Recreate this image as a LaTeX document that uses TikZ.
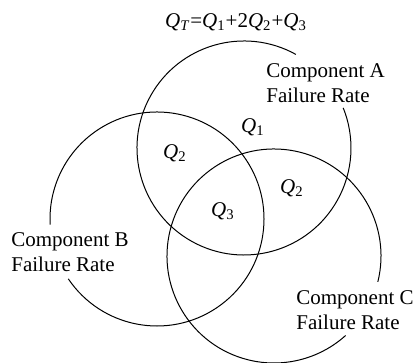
\documentclass[tikz,border=0pt]{standalone}
\usepackage{fontspec}
\setmainfont{Liberation Serif}
\usepackage{tikz}
\newcommand{\Qs}[1]{\textit{Q}\textsubscript{#1}}

\begin{document}
\begin{tikzpicture}[x=0.5pt, y=0.5pt, every node/.style={align=left, inner sep=0pt, font=\fontsize{10.5}{12.5}\selectfont}, ring/.style={line width=0.5pt}]
\useasboundingbox (0,0) rectangle (414,363);
\coordinate (ca) at (244,215);
\coordinate (cb) at (157,144);
\coordinate (cc) at (274,107);
\draw[ring] ([shift={(61:53.5pt)}]ca) arc[start angle=61, end angle=382, radius=53.5pt];
\draw[ring] ([shift={(214:53.5pt)}]cb) arc[start angle=214, end angle=543, radius=53.5pt];
\draw[ring] ([shift={(-14:53.5pt)}]cc) arc[start angle=-14, end angle=312, radius=53.5pt];
\node (total) at (236,341) {\textit{Q}\textsubscript{\textit{T}}=\Qs{1}+2\Qs{2}+\Qs{3}};
\node[anchor=west] (labA) at (266,280) {Component A\\Failure Rate};
\node[anchor=west] (labB) at (11,111) {Component B\\Failure Rate};
\node[anchor=west] (labC) at (296,53) {Component C\\Failure Rate};
\node (qone) at (253,236) {\Qs{1}};
\node (qtwoab) at (175,210) {\Qs{2}};
\node (qtwoac) at (292,175) {\Qs{2}};
\node (qthree) at (223,152) {\Qs{3}};
\end{tikzpicture}
\end{document}
